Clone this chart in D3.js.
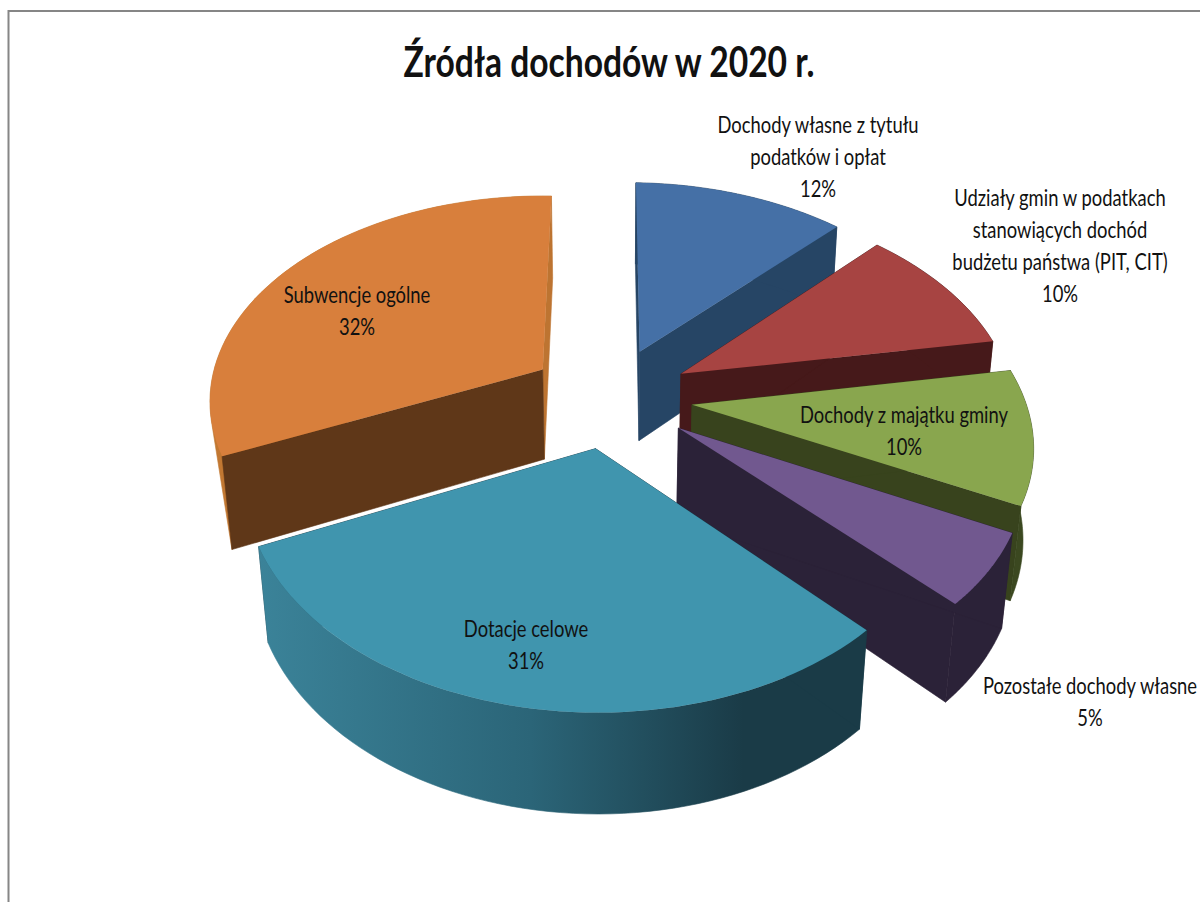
<!DOCTYPE html>
<html>
<head>
<meta charset="utf-8">
<script src="https://cdn.jsdelivr.net/npm/d3@7"></script>
<style>
html, body { margin: 0; padding: 0; background: #fff; }
text { font-family: Lato, "Open Sans", sans-serif; fill: #111; }
</style>
</head>
<body>
<script>
// values (labels are rounded)
var categories = [
	["Dochody własne z tytułu", "podatków i opłat"],
	["Udziały gmin w podatkach", "stanowiących dochód", "budżetu państwa (PIT, CIT)"],
	["Dochody z majątku gminy"],
	["Pozostałe dochody własne"],
	["Dotacje celowe"],
	["Subwencje ogólne"]
];
var shares = [12, 10, 10.2, 5.45, 30.35, 32];
var shareLabels = ["12%", "10%", "10%", "5%", "31%", "32%"];
var title = "Źródła dochodów w 2020 r.";

var topColors = ["#4570a6", "#a74442", "#89a64e", "#71588f", "#4095ae", "#d87f3c"];
var wallColors = ["#264565", "#46191a", "#38431d", "#2b2238", "#1a3b47", "#5f3718"];
var rimColors = ["#264565", "#46191a", "#3b4820", "#2b2238", "url(#tealWall)", "#c27832"];
var endColors = ["#264565", "#46191a", "#38431d", "#2b2238", "#1a3b47", "#bd7431"];

// centre x and first line y of every label
var labelX = [818, 1060, 904, 1090, 526, 357];
var labelY = [133, 206, 423, 694, 637, 303];
var lineStep = 32;
var labelSquash = 0.8, titleSquash = 0.8;

var width = 1200, height = 902;
var cx = 610.5, cy = 397;
var radiusX = 334, radiusY = 207, wallHeight = 93;
var perspective = 0.15, wallPerspective = 0.025, explode = 0.245, shear = 4;

var svg = d3.select("body").append("svg")
	.attr("width", width)
	.attr("height", height)
	.style("display", "block");

var defs = svg.append("defs");
var wallGrad = defs.append("linearGradient")
	.attr("id", "tealWall")
	.attr("gradientUnits", "userSpaceOnUse")
	.attr("x1", 257).attr("x2", 865).attr("y1", 0).attr("y2", 0);
wallGrad.append("stop").attr("offset", "0").attr("stop-color", "#3b8399");
wallGrad.append("stop").attr("offset", "0.45").attr("stop-color", "#2b6578");
wallGrad.append("stop").attr("offset", "0.8").attr("stop-color", "#1a3b47");
wallGrad.append("stop").attr("offset", "1").attr("stop-color", "#1a3b47");

// chart frame
svg.append("path")
	.attr("d", "M8.5," + height + "V11H" + width)
	.attr("fill", "none")
	.attr("stroke", "#868686")
	.attr("stroke-width", 2);

// disk coordinates -> screen, u to the right, v to the viewer, h down the wall
function project(u, v, h) {
	var w = 1 - perspective * v + wallPerspective * h;
	return [cx + radiusX * u / w, cy + shear * u + (radiusY * v + wallHeight * h) / w];
}

var pie = d3.pie().sort(null).value(function(d) { return d; });
var arcs = pie(shares);
var line = d3.line();

// order: back to front
var drawOrder = [5, 0, 1, 2, 3, 4];

drawOrder.forEach(function(i) {
	var a = arcs[i];
	var mid = (a.startAngle + a.endAngle) / 2;
	var ou = explode * Math.sin(mid), ov = -explode * Math.cos(mid);
	var steps = d3.range(0, 61).map(function(k) {
		return a.startAngle + (a.endAngle - a.startAngle) * k / 60;
	});
	var rim = function(h) {
		return steps.map(function(t) {
			return project(ou + Math.sin(t), ov - Math.cos(t), h);
		});
	};
	var apex = function(h) { return project(ou, ov, h); };
	var topRim = rim(0), botRim = rim(1);
	var g = svg.append("g").attr("class", "slice");

	function wall(pts, color) {
		g.append("path")
			.attr("d", line(pts) + "Z")
			.attr("fill", color)
			.attr("stroke", color)
			.attr("stroke-width", 0.6);
	}
	wall([apex(0), topRim[60], botRim[60], apex(1)], endColors[i]);
	// the back slice only shows a thin strip down to its corner
	var rimWall = i == 5
		? d3.polygonHull(topRim.concat([botRim[0]]))
		: topRim.concat(botRim.slice().reverse());
	wall(rimWall, rimColors[i]);
	wall([apex(0), topRim[0], botRim[0], apex(1)], wallColors[i]);
	// top
	g.append("path")
		.attr("d", line([apex(0)].concat(topRim)) + "Z")
		.attr("fill", topColors[i]);
});

// title
svg.append("text")
	.attr("transform", "translate(609,77) scale(" + titleSquash + ",1)")
	.attr("text-anchor", "middle")
	.style("font-size", "42px")
	.style("font-weight", "bold")
	.text(title);

// labels
categories.forEach(function(lines, i) {
	var t = svg.append("text")
		.attr("transform", "translate(" + labelX[i] + ",0) scale(" + labelSquash + ",1)")
		.attr("text-anchor", "middle")
		.style("font-size", "23px");
	lines.concat([shareLabels[i]]).forEach(function(s, k) {
		t.append("tspan")
			.attr("x", 0)
			.attr("y", labelY[i] + k * lineStep)
			.text(s);
	});
});
</script>
</body>
</html>
